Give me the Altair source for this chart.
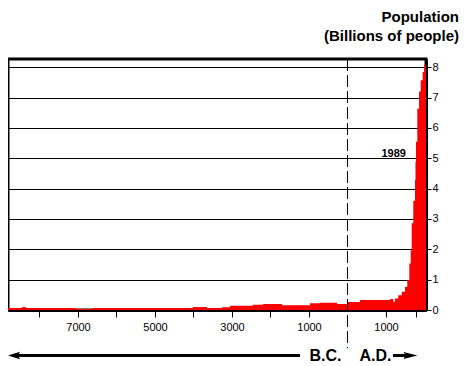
import altair as alt
import pandas as pd

# Population (billions); years (negative = B.C.)
years = [-8818, -8455, -8351, -7052, -6636, -4013, -3649, -3260, -3052, -2455,
         -2195, -1701, -974, -714, -273, 0, 325, 1104, 1190, 1234, 1319, 1408,
         1494, 1553, 1605, 1642, 1668, 1709, 1753, 1766, 1779, 1813, 1857, 1901,
         1953, 1987, 2039]
pop = [0.07, 0.10, 0.07, 0.03, 0.07, 0.10, 0.07, 0.09, 0.14, 0.17,
       0.20, 0.16, 0.22, 0.24, 0.20, 0.26, 0.33, 0.36, 0.27, 0.38, 0.49, 0.60,
       0.77, 0.99, 1.53, 1.97, 2.86, 3.60, 4.28, 4.88, 5.54, 6.63, 7.20, 7.57,
       7.84, 8.06, 8.06]

x_ticks = [-8000, -7000, -6000, -5000, -4000, -3000, -2000, -1000, 1000, 1779]
x_labeled = [-7000, -5000, -3000, -1000, 1000]
y_ticks = [0, 1, 2, 3, 4, 5, 6, 7, 8]
title_lines = ["Population", "(Billions of people)"]
era_labels = ["B.C.", "A.D."]
note_label = "1989"
note_year = 1200
note_value = 5.15

FONT = "Liberation Sans"
W, H = 418, 251

df = pd.DataFrame({"year": years, "pop": pop})
one = pd.DataFrame({"a": [0]})

label_expr = ("indexof([" + ",".join(str(v) for v in x_labeled) +
              "], datum.value) >= 0 ? format(abs(datum.value), 'd') : ''")

xscale = alt.Scale(domain=[-8818, 2039], nice=False, zero=False)
yscale = alt.Scale(domain=[0, 8.27], nice=False)

area = alt.Chart(df).mark_area(color="#ff0000", interpolate="step-after").encode(
    x=alt.X("year:Q", scale=xscale,
            axis=alt.Axis(values=x_ticks, tickCount=30, labelExpr=label_expr,
                          title=None, grid=False, tickSize=7, tickWidth=1,
                          domainWidth=3, labelPadding=4, labelFontSize=11,
                          labelFlush=False, labelOverlap=False)),
    y=alt.Y("pop:Q", scale=yscale,
            axis=alt.Axis(orient="right", values=y_ticks, tickCount=30,
                          format="d", title=None, grid=True, gridColor="black",
                          gridWidth=1, gridOpacity=1, tickSize=5, tickWidth=1,
                          domainWidth=3, labelPadding=1, labelFontSize=11,
                          labelOverlap=False)),
)

dash = alt.Chart(one).mark_rule(color="black", strokeWidth=1, strokeDash=[12, 4]).encode(
    x=alt.datum(0), y=alt.value(0), y2=alt.value(289))

note = alt.Chart(one).mark_text(text=note_label, font=FONT, fontSize=11,
                                fontWeight="bold", align="center",
                                baseline="middle", color="black").encode(
    x=alt.datum(note_year), y=alt.datum(note_value))

t1 = alt.Chart(one).mark_text(text=title_lines[0], font=FONT, fontSize=15,
                              fontWeight="bold", align="right", baseline="middle",
                              color="black").encode(x=alt.value(451), y=alt.value(-42.5))
t2 = alt.Chart(one).mark_text(text=title_lines[1], font=FONT, fontSize=15,
                              fontWeight="bold", align="right", baseline="middle",
                              color="black").encode(x=alt.value(451), y=alt.value(-23))

bc = alt.Chart(one).mark_text(text=era_labels[0], font=FONT, fontSize=16,
                              fontWeight="bold", align="center", baseline="middle",
                              color="black").encode(x=alt.value(317.5), y=alt.value(297))
ad = alt.Chart(one).mark_text(text=era_labels[1], font=FONT, fontSize=16,
                              fontWeight="bold", align="center", baseline="middle",
                              color="black").encode(x=alt.value(367.5), y=alt.value(297))

left_line = alt.Chart(one).mark_rule(color="black", strokeWidth=3).encode(
    x=alt.value(8), x2=alt.value(292), y=alt.value(296.5))
right_line = alt.Chart(one).mark_rule(color="black", strokeWidth=3).encode(
    x=alt.value(385), x2=alt.value(398), y=alt.value(296.5))

left_head = alt.Chart(one).mark_point(
    shape="M-1,0L1,-0.64L0.7,0L1,0.64Z", filled=True, color="black",
    opacity=1, size=144, strokeWidth=0).encode(x=alt.value(6), y=alt.value(296.5))
right_head = alt.Chart(one).mark_point(
    shape="M1,0L-1,-0.5L-0.7,0L-1,0.5Z", filled=True, color="black",
    opacity=1, size=196, strokeWidth=0).encode(x=alt.value(402.5), y=alt.value(296.5))

chart = alt.layer(area, dash, note, t1, t2, bc, ad, left_line, right_line,
                  left_head, right_head).properties(
    width=W, height=H,
    autosize=alt.AutoSizeParams(type="none"),
    padding={"left": 0, "top": 51, "right": 34, "bottom": 56},
).configure_view(stroke="black", strokeWidth=3).configure_axis(
    labelFont=FONT, labelColor="black", tickColor="black", domainColor="black"
)

chart.save("out.html", embed_options={"renderer": "svg", "actions": False})
